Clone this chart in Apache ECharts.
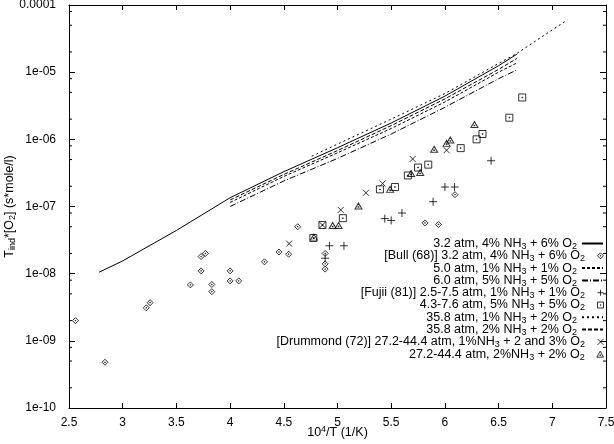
<!DOCTYPE html>
<html>
<head>
<meta charset="utf-8">
<script src="https://cdn.jsdelivr.net/npm/echarts@6/dist/echarts.min.js"></script>
<style>html,body{margin:0;padding:0;background:#fff}#c{width:614px;height:444px}</style>
</head>
<body>
<div id="c"></div>
<script>
// ---- tick labels ----
const xTicks = [2.5, 3, 3.5, 4, 4.5, 5, 5.5, 6, 6.5, 7, 7.5];
const yTickLabels = ['1e-10', '1e-09', '1e-08', '1e-07', '1e-06', '1e-05', '0.0001'];
const yMinor = [2e-10, 5e-10, 8e-10, 2e-9, 5e-9, 8e-9, 2e-8, 5e-8, 8e-8, 2e-7, 5e-7, 8e-7, 2e-6, 5e-6, 8e-6, 2e-5, 5e-5, 8e-5];

// ---- series names ----
const names = [
  '3.2 atm, 4% NH3 + 6% O2',
  '[Bull (68)] 3.2 atm, 4% NH3 + 6% O2',
  '5.0 atm, 1% NH3 + 1% O2',
  '6.0 atm, 5% NH3 + 5% O2',
  '[Fujii (81)] 2.5-7.5 atm, 1% NH3 + 1% O2',
  '4.3-7.6 atm, 5% NH3 + 5% O2',
  '35.8 atm, 1% NH3 + 2% O2',
  '35.8 atm, 2% NH3 + 2% O2',
  '[Drummond (72)] 27.2-44.4 atm, 1%NH3 + 2 and 3% O2',
  '27.2-44.4 atm, 2%NH3 + 2% O2'
];
const isLine = [true, false, true, true, false, false, true, true, false, false];

// ---- line series ----
const l32X = [2.78, 3.0, 3.5, 4.0, 4.5, 5.0, 5.5, 6.0, 6.5, 6.67];
const l32Y = [1.05e-8, 1.55e-8, 4.4e-8, 1.35e-7, 3.3e-7, 7.5e-7, 1.75e-6, 4.4e-6, 1.25e-5, 1.85e-5];
const l50X = [4.0, 4.5, 5.0, 5.5, 6.0, 6.5, 6.67];
const l50Y = [1.15e-7, 2.8e-7, 6.3e-7, 1.45e-6, 3.6e-6, 1.0e-5, 1.37e-5];
const l60X = [4.0, 4.5, 5.0, 5.5, 6.0, 6.5, 6.67];
const l60Y = [1.0e-7, 2.4e-7, 5.2e-7, 1.2e-6, 3.0e-6, 8.0e-6, 1.08e-5];
const l358aX = [4.76, 5.0, 5.5, 6.0, 6.5, 6.67, 7.14];
const l358aY = [5.6e-7, 8.5e-7, 2.0e-6, 4.8e-6, 1.35e-5, 1.9e-5, 6.0e-5];
const l358bX = [4.0, 4.5, 5.0, 5.5, 6.0, 6.5, 6.67];
const l358bY = [1.25e-7, 3.0e-7, 6.8e-7, 1.6e-6, 4.0e-6, 1.1e-5, 1.6e-5];

// ---- scatter series ----
const bullX = [2.56, 2.835, 3.22, 3.255, 3.63, 3.73, 3.73, 3.77, 3.83, 3.83, 4.0, 4.0, 4.08, 4.32, 4.455, 4.545, 4.63, 4.885, 4.885, 4.885, 5.815, 5.94, 6.094];
const bullY = [2.0e-9, 4.8e-10, 3.1e-9, 3.7e-9, 6.8e-9, 1.1e-8, 1.8e-8, 2.0e-8, 6.9e-9, 5.4e-9, 1.1e-8, 7.8e-9, 7.8e-9, 1.5e-8, 2.1e-8, 1.95e-8, 5.0e-8, 2.0e-8, 1.4e-8, 1.17e-8, 5.7e-8, 5.4e-8, 1.5e-7];
const fujiiX = [4.885, 4.925, 5.06, 5.44, 5.50, 5.60, 5.89, 6.0, 6.09, 6.43];
const fujiiY = [1.7e-8, 2.6e-8, 2.6e-8, 6.6e-8, 6.2e-8, 8.0e-8, 1.18e-7, 1.95e-7, 1.95e-7, 4.8e-7];
const sqX = [4.775, 4.86, 5.05, 5.395, 5.535, 5.655, 5.75, 5.845, 6.147, 6.295, 6.35, 6.6, 6.72];
const sqY = [3.4e-8, 5.3e-8, 6.7e-8, 1.8e-7, 1.95e-7, 2.9e-7, 3.8e-7, 4.2e-7, 7.4e-7, 1.0e-6, 1.2e-6, 2.1e-6, 4.2e-6];
const drX = [4.55, 4.86, 5.03, 5.265, 5.42, 5.70, 6.016];
const drY = [2.8e-8, 5.3e-8, 8.9e-8, 1.6e-7, 2.2e-7, 5.1e-7, 6.9e-7];
const triX = [4.78, 4.955, 5.01, 5.195, 5.49, 5.685, 5.77, 5.90, 6.016, 6.05, 6.275];
const triY = [3.5e-8, 5.2e-8, 5.2e-8, 1.02e-7, 1.8e-7, 3.1e-7, 3.2e-7, 7.1e-7, 8.7e-7, 9.8e-7, 1.66e-6];

const zip = (xs, ys) => xs.map((x, i) => [x, ys[i]]);
const FONT = 'Liberation Sans';

const SYM = {
  diamond: 'path://M5,0L10,5L5,10L0,5Z M4.5,4.5L5.5,4.5L5.5,5.5L4.5,5.5Z',
  square: 'path://M0,0L10,0L10,10L0,10Z M4.5,4.5L5.5,4.5L5.5,5.5L4.5,5.5Z',
  triangle: 'path://M5,0L10,9L0,9Z M4.5,5.5L5.5,5.5L5.5,6.5L4.5,6.5Z',
  plus: 'path://M0,5L10,5M5,0L5,10',
  cross: 'path://M0,0L10,10M10,0L0,10'
};

function lineSeries(name, xs, ys, dash) {
  return {
    name, type: 'line', data: zip(xs, ys), symbol: 'none', showSymbol: false,
    lineStyle: { color: '#000', width: 1, type: dash }, itemStyle: { color: '#000' },
    silent: true, animation: false, z: 3
  };
}
function scatterSeries(name, xs, ys, sym, size) {
  return {
    name, type: 'scatter', data: zip(xs, ys), symbol: sym, symbolSize: size,
    itemStyle: { color: 'transparent', borderColor: '#000', borderWidth: 1 },
    silent: true, animation: false, z: 4
  };
}

const series = [
  lineSeries(names[0], l32X, l32Y, 'solid'),
  scatterSeries(names[1], bullX, bullY, SYM.diamond, 6),
  lineSeries(names[2], l50X, l50Y, [3, 2]),
  lineSeries(names[3], l60X, l60Y, [6, 2, 1, 2]),
  scatterSeries(names[4], fujiiX, fujiiY, SYM.plus, 8),
  scatterSeries(names[5], sqX, sqY, SYM.square, 7),
  lineSeries(names[6], l358aX, l358aY, [2, 3]),
  lineSeries(names[7], l358bX, l358bY, [4, 2]),
  scatterSeries(names[8], drX, drY, SYM.cross, 6),
  scatterSeries(names[9], triX, triY, SYM.triangle, [7, 6]),
  {
    type: 'custom', silent: true, animation: false, z: 2,
    data: yMinor.map(v => [2.5, v]),
    renderItem: function (params, api) {
      const v = api.value(1);
      const pL = api.coord([2.5, v]);
      const pR = api.coord([7.5, v]);
      const st = { stroke: '#000', lineWidth: 1 };
      return { type: 'group', children: [
        { type: 'line', shape: { x1: pL[0], y1: pL[1], x2: pL[0] + 3, y2: pL[1] }, style: st },
        { type: 'line', shape: { x1: pR[0] - 3, y1: pR[1], x2: pR[0], y2: pR[1] }, style: st }
      ] };
    }
  }
];

const rich = {
  s: { fontSize: 9, fontFamily: FONT, color: '#000', padding: [6, 0, 0, 0] }
};
function fmt(name) {
  return name.replace(/NH3/g, 'NH{s|3}').replace(/O2/g, 'O{s|2}');
}

const legends = names.map((n, i) => ({
  data: [n], orient: 'vertical', align: 'right', right: 10, top: 237 + i * 12.3,
  padding: 0, itemGap: 0, itemWidth: 21, itemHeight: isLine[i] ? 8 : 6, selectedMode: false,
  formatter: fmt,
  itemStyle: isLine[i] ? { opacity: 0 } : { borderWidth: 1, borderColor: '#000', color: 'transparent' },
  textStyle: { fontFamily: FONT, fontSize: 12.5, color: '#000', rich: rich }
}));

const axisCommon = {
  axisLine: { show: true, onZero: false, lineStyle: { color: '#000', width: 1 } },
  splitLine: { show: false }
};

const option = {
  backgroundColor: '#fff',
  animation: false,
  grid: { left: 69, right: 8, top: 5, bottom: 36, containLabel: false, outerBoundsMode: 'none' },
  legend: legends,
  xAxis: [
    Object.assign({
      type: 'value', min: 2.5, max: 7.5, interval: 0.5, position: 'bottom',
      axisTick: { inside: true, length: 5, lineStyle: { color: '#000' } },
      axisLabel: { color: '#000', fontSize: 12, fontFamily: FONT, margin: 9,
        formatter: v => { const t = xTicks.find(t => Math.abs(t - v) < 1e-9); return t === undefined ? '' : String(t); } },
      name: '10{sup|4}/T (1/K)', nameLocation: 'middle', nameGap: 17, nameMoveOverlap: false,
      nameTextStyle: { color: '#000', fontSize: 12.5, fontFamily: FONT,
        rich: { sup: { fontSize: 9, fontFamily: FONT, color: '#000', padding: [0, 0, 7, 0] } } }
    }, axisCommon),
    Object.assign({
      type: 'value', min: 2.5, max: 7.5, interval: 0.5, position: 'top',
      axisTick: { inside: true, length: 5, lineStyle: { color: '#000' } },
      axisLabel: { show: false }
    }, axisCommon)
  ],
  yAxis: [
    Object.assign({
      type: 'log', logBase: 10, min: 1e-10, max: 1e-4, position: 'left',
      axisTick: { inside: true, length: 6, lineStyle: { color: '#000' } },
      axisLabel: { color: '#000', fontSize: 12, fontFamily: FONT, margin: 13,
        formatter: v => { const e = Math.round(Math.log10(v)); return yTickLabels[e + 10] || ''; } },
      name: 'T{s|ind}*[O{s|2}] (s*mole/l)', nameLocation: 'middle', nameRotate: 90, nameGap: 52, nameMoveOverlap: false,
      nameTextStyle: { color: '#000', fontSize: 12.5, fontFamily: FONT,
        rich: { s: { fontSize: 9, fontFamily: FONT, color: '#000', padding: [6, 0, 0, 0] } } }
    }, axisCommon),
    Object.assign({
      type: 'log', logBase: 10, min: 1e-10, max: 1e-4, position: 'right',
      axisTick: { inside: true, length: 6, lineStyle: { color: '#000' } },
      axisLabel: { show: false }
    }, axisCommon)
  ],
  series: series
};

const chart = echarts.init(document.getElementById('c'), null, { renderer: 'canvas' });
chart.setOption(option);
</script>
</body>
</html>
